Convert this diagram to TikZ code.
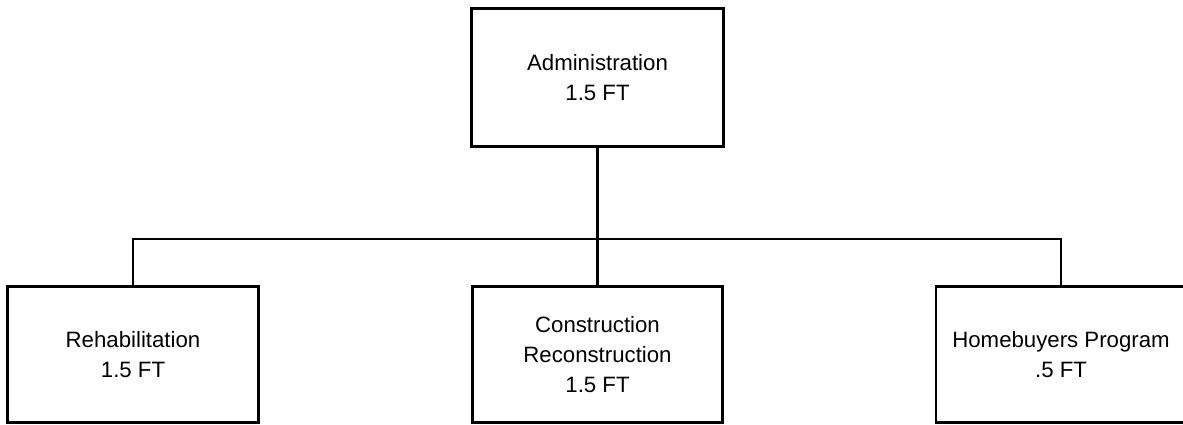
\documentclass[tikz,border=0pt]{standalone}
\usepackage{fontspec}
\setmainfont{Liberation Sans}
\usetikzlibrary{positioning}

\begin{document}
\begin{tikzpicture}[x=0.025cm, y=-0.025cm,
  main/.style = {draw, line width=2.1pt, rectangle, align=center,
    minimum width=6.25cm, minimum height=3.4cm, inner sep=0pt,
    font=\fontsize{15.8}{21.3}\selectfont}]
\useasboundingbox (0,0) rectangle (1183,425);
\node[main, minimum width=6.28cm, minimum height=3.45cm] (admin) at (597.5,77.5) {Administration\\1.5 FT};
\node[main] (rehab) at (133,354.5) {Rehabilitation\\1.5 FT};
\node[main] (constr) at (597.5,354.5) {Construction\\Reconstruction\\1.5 FT};
\node[main] (homebuy) at (1061,354.5) {Homebuyers Program\\.5 FT};
\coordinate (bar) at (597.5,239);
\draw[line width=2.1pt] (admin) -- (constr);
\draw[line width=2.1pt] (rehab.north) |- (bar) -| (homebuy.north);
\end{tikzpicture}
\end{document}
